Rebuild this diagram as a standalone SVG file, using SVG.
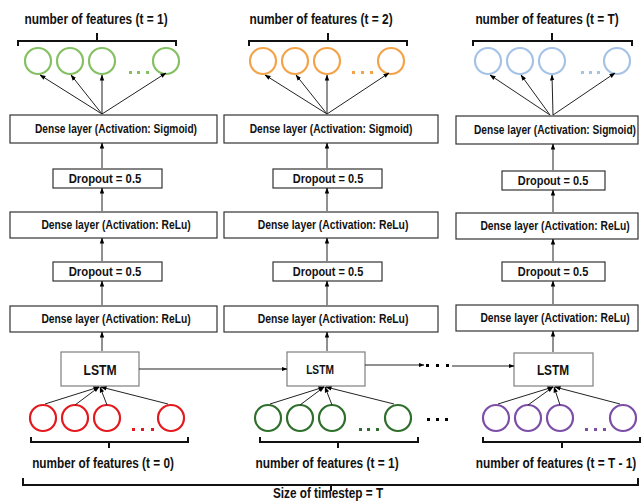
<svg xmlns="http://www.w3.org/2000/svg" width="643" height="502" viewBox="0 0 643 502">
<defs>
<marker id="ah" markerUnits="userSpaceOnUse" markerWidth="6" markerHeight="6" viewBox="0 0 6 6" refX="5.5" refY="3" orient="auto">
<path d="M0,0.8 L6,3 L0,5.2 Z" fill="#000"/>
</marker>
</defs>
<style>
.box{fill:#fff;stroke:#333;stroke-width:1.2}
.lstm{fill:#fff;stroke:#7f7f7f;stroke-width:1.2}
.t{font-family:"Liberation Sans",Arial,sans-serif;font-weight:bold;fill:#111;text-anchor:middle}
.bt{font-size:12.5px}
.lb{font-size:15.5px}
.ls{font-size:14px}
.c{fill:none;stroke-width:2.2}
.g1{stroke:#85c163}.o{stroke:#f5a34b}.b{stroke:#a6c3e6}
.r{stroke:#e3191e}.g2{stroke:#2e6f2b}.p{stroke:#7b4ea8}
.ar{stroke:#222;stroke-width:1;fill:none;marker-end:url(#ah)}
.br{stroke:#111;stroke-width:2;fill:none}
</style>

<g id="col1-output">
<text class="t lb" transform="translate(96,24) scale(0.75,1)" textLength="191" lengthAdjust="spacingAndGlyphs">number of features (t = 1)</text>
<path class="br" d="M18,46 V41 H176 V46 M97,41 V33"/>
<circle class="c g1" cx="38" cy="61" r="13"/><circle class="c g1" cx="70" cy="61" r="13"/><circle class="c g1" cx="102" cy="61" r="13"/><circle class="c g1" cx="166" cy="61" r="13"/>
<g fill="#85c163"><rect x="129" y="71" width="3" height="3"/><rect x="137" y="71" width="3" height="3"/><rect x="146" y="71" width="3" height="3"/></g>
</g>
<g id="col2-output">
<text class="t lb" transform="translate(321,24) scale(0.75,1)" textLength="191" lengthAdjust="spacingAndGlyphs">number of features (t = 2)</text>
<path class="br" d="M249,46 V41 H407 V46 M328,41 V33"/>
<circle class="c o" cx="263" cy="61" r="13"/><circle class="c o" cx="295" cy="61" r="13"/><circle class="c o" cx="327" cy="61" r="13"/><circle class="c o" cx="391" cy="61" r="13"/>
<g fill="#f5a34b"><rect x="352" y="71" width="3" height="3"/><rect x="361" y="71" width="3" height="3"/><rect x="370" y="71" width="3" height="3"/></g>
</g>
<g id="col3-output">
<text class="t lb" transform="translate(547,24) scale(0.75,1)" textLength="191" lengthAdjust="spacingAndGlyphs">number of features (t = T)</text>
<path class="br" d="M473,46 V41 H632 V46 M552,41 V33"/>
<circle class="c b" cx="488" cy="61" r="13"/><circle class="c b" cx="520" cy="61" r="13"/><circle class="c b" cx="552" cy="61" r="13"/><circle class="c b" cx="617" cy="61" r="13"/>
<g fill="#a6c3e6"><rect x="581" y="71" width="3" height="3"/><rect x="589" y="71" width="3" height="3"/><rect x="597" y="71" width="3" height="3"/></g>
</g>

<g id="col1-sigmoid"><rect class="box" x="10" y="115" width="207" height="28"/><text class="t bt" transform="translate(116,133) scale(0.75,1)" textLength="216" lengthAdjust="spacingAndGlyphs">Dense layer (Activation: Sigmoid)</text></g>
<g id="col1-dropout1"><rect class="box" x="53" y="169" width="109" height="19"/><text class="t bt" transform="translate(105,183) scale(0.75,1)" textLength="97" lengthAdjust="spacingAndGlyphs">Dropout = 0.5</text></g>
<g id="col1-relu1"><rect class="box" x="10" y="212" width="207" height="26"/><text class="t bt" transform="translate(116,229) scale(0.75,1)" textLength="199" lengthAdjust="spacingAndGlyphs">Dense layer (Activation: ReLu)</text></g>
<g id="col1-dropout2"><rect class="box" x="53" y="262" width="109" height="19"/><text class="t bt" transform="translate(105,276) scale(0.75,1)" textLength="97" lengthAdjust="spacingAndGlyphs">Dropout = 0.5</text></g>
<g id="col1-relu2"><rect class="box" x="10" y="306" width="207" height="26"/><text class="t bt" transform="translate(116,323) scale(0.75,1)" textLength="199" lengthAdjust="spacingAndGlyphs">Dense layer (Activation: ReLu)</text></g>
<g id="col1-lstm"><rect class="lstm" x="61" y="352" width="78" height="34"/><text class="t ls" transform="translate(100,375) scale(0.75,1)" textLength="44" lengthAdjust="spacingAndGlyphs">LSTM</text></g>

<g id="col2-sigmoid"><rect class="box" x="224" y="115" width="214" height="28"/><text class="t bt" transform="translate(331,133) scale(0.75,1)" textLength="217" lengthAdjust="spacingAndGlyphs">Dense layer (Activation: Sigmoid)</text></g>
<g id="col2-dropout1"><rect class="box" x="273" y="169" width="109" height="19"/><text class="t bt" transform="translate(328,183) scale(0.75,1)" textLength="94" lengthAdjust="spacingAndGlyphs">Dropout = 0.5</text></g>
<g id="col2-relu1"><rect class="box" x="224" y="212" width="214" height="26"/><text class="t bt" transform="translate(333,229) scale(0.75,1)" textLength="201" lengthAdjust="spacingAndGlyphs">Dense layer (Activation: ReLu)</text></g>
<g id="col2-dropout2"><rect class="box" x="273" y="262" width="109" height="19"/><text class="t bt" transform="translate(328,276) scale(0.75,1)" textLength="94" lengthAdjust="spacingAndGlyphs">Dropout = 0.5</text></g>
<g id="col2-relu2"><rect class="box" x="224" y="306" width="214" height="26"/><text class="t bt" transform="translate(333,323) scale(0.75,1)" textLength="201" lengthAdjust="spacingAndGlyphs">Dense layer (Activation: ReLu)</text></g>
<g id="col2-lstm"><rect class="lstm" x="287" y="352" width="78" height="34"/><text class="t" style="font-size:12px" transform="translate(320,374) scale(0.75,1)" textLength="37" lengthAdjust="spacingAndGlyphs">LSTM</text></g>

<g id="col3-sigmoid"><rect class="box" x="456" y="116" width="182" height="28"/><text class="t bt" transform="translate(555,134) scale(0.75,1)" textLength="216" lengthAdjust="spacingAndGlyphs">Dense layer (Activation: Sigmoid)</text></g>
<g id="col3-dropout1"><rect class="box" x="502" y="171" width="103" height="19"/><text class="t bt" transform="translate(553,185) scale(0.75,1)" textLength="94" lengthAdjust="spacingAndGlyphs">Dropout = 0.5</text></g>
<g id="col3-relu1"><rect class="box" x="456" y="213" width="182" height="26"/><text class="t bt" transform="translate(555,230) scale(0.75,1)" textLength="199" lengthAdjust="spacingAndGlyphs">Dense layer (Activation: ReLu)</text></g>
<g id="col3-dropout2"><rect class="box" x="502" y="262" width="103" height="19"/><text class="t bt" transform="translate(553,276) scale(0.75,1)" textLength="94" lengthAdjust="spacingAndGlyphs">Dropout = 0.5</text></g>
<g id="col3-relu2"><rect class="box" x="456" y="305" width="182" height="26"/><text class="t bt" transform="translate(555,322) scale(0.75,1)" textLength="199" lengthAdjust="spacingAndGlyphs">Dense layer (Activation: ReLu)</text></g>
<g id="col3-lstm"><rect class="lstm" x="514" y="353" width="79" height="33"/><text class="t ls" transform="translate(553,375) scale(0.75,1)" textLength="43" lengthAdjust="spacingAndGlyphs">LSTM</text></g>

<g id="col1-input">
<circle class="c r" cx="43" cy="418" r="13"/><circle class="c r" cx="75" cy="418" r="13"/><circle class="c r" cx="107" cy="418" r="13"/><circle class="c r" cx="171" cy="418" r="13"/>
<g fill="#e3191e"><rect x="132" y="428" width="3" height="3"/><rect x="141" y="428" width="3" height="3"/><rect x="151" y="428" width="3" height="3"/></g>
<path class="br" d="M31,437 V442 H188 V437 M109,442 V448"/>
<text class="t lb" transform="translate(103,468) scale(0.75,1)" textLength="189" lengthAdjust="spacingAndGlyphs">number of features (t = 0)</text>
</g>
<g id="col2-input">
<circle class="c g2" cx="268" cy="418" r="13"/><circle class="c g2" cx="300" cy="418" r="13"/><circle class="c g2" cx="332" cy="418" r="13"/><circle class="c g2" cx="398" cy="418" r="13"/>
<g fill="#2e6f2b"><rect x="359" y="428" width="3" height="3"/><rect x="367" y="428" width="3" height="3"/><rect x="376" y="428" width="3" height="3"/></g>
<path class="br" d="M260,437 V442 H418 V437 M338,442 V448"/>
<text class="t lb" transform="translate(327,468) scale(0.75,1)" textLength="191" lengthAdjust="spacingAndGlyphs">number of features (t = 1)</text>
</g>
<g id="col3-input">
<circle class="c p" cx="496" cy="418" r="13"/><circle class="c p" cx="528" cy="418" r="13"/><circle class="c p" cx="560" cy="418" r="13"/><circle class="c p" cx="623" cy="418" r="13"/>
<g fill="#7b4ea8"><rect x="585" y="428" width="3" height="3"/><rect x="594" y="428" width="3" height="3"/><rect x="603" y="428" width="3" height="3"/></g>
<path class="br" d="M483,437 V442 H640 V437 M562,442 V448"/>
<text class="t lb" transform="translate(556,468) scale(0.75,1)" textLength="214" lengthAdjust="spacingAndGlyphs">number of features (t = T - 1)</text>
</g>

<g id="timestep">
<path class="br" d="M23,478 V485 H638 V478 M331,485 V491"/>
<text class="t" style="font-size:14.5px" transform="translate(328,498) scale(0.75,1)" textLength="147" lengthAdjust="spacingAndGlyphs">Size of timestep = T</text>
</g>

<g id="ellipsis" fill="#000">
<rect x="426" y="364" width="3" height="3"/><rect x="436" y="364" width="3" height="3"/><rect x="446" y="364" width="3" height="3"/>
<rect x="427" y="418" width="3" height="3"/><rect x="436" y="418" width="3" height="3"/><rect x="445" y="418" width="3" height="3"/>
</g>

<g id="connectors">
<line class="ar" x1="102" y1="114" x2="40" y2="75"/>
<line class="ar" x1="102" y1="114" x2="71" y2="75"/>
<line class="ar" x1="102" y1="114" x2="102" y2="75"/>
<line class="ar" x1="102" y1="114" x2="166" y2="73"/>
<line class="ar" x1="327" y1="114" x2="265" y2="75"/>
<line class="ar" x1="327" y1="114" x2="296" y2="75"/>
<line class="ar" x1="327" y1="114" x2="327" y2="75"/>
<line class="ar" x1="327" y1="114" x2="389" y2="73"/>
<line class="ar" x1="550" y1="115" x2="490" y2="75"/>
<line class="ar" x1="550" y1="115" x2="521" y2="75"/>
<line class="ar" x1="553" y1="115" x2="552" y2="75"/>
<line class="ar" x1="553" y1="115" x2="615" y2="73"/>

<line class="ar" x1="102" y1="168" x2="102" y2="143"/>
<line class="ar" x1="102" y1="211" x2="102" y2="188"/>
<line class="ar" x1="102" y1="261" x2="102" y2="238"/>
<line class="ar" x1="102" y1="305" x2="102" y2="281"/>
<line class="ar" x1="102" y1="351" x2="102" y2="332"/>
<line class="ar" x1="327" y1="168" x2="327" y2="143"/>
<line class="ar" x1="327" y1="211" x2="327" y2="188"/>
<line class="ar" x1="327" y1="261" x2="327" y2="238"/>
<line class="ar" x1="327" y1="305" x2="327" y2="281"/>
<line class="ar" x1="327" y1="351" x2="327" y2="332"/>
<line class="ar" x1="553" y1="170" x2="553" y2="144"/>
<line class="ar" x1="553" y1="212" x2="553" y2="190"/>
<line class="ar" x1="553" y1="261" x2="553" y2="239"/>
<line class="ar" x1="553" y1="304" x2="553" y2="281"/>
<line class="ar" x1="553" y1="352" x2="553" y2="331"/>

<line class="ar" x1="45" y1="404" x2="99" y2="387"/>
<line class="ar" x1="75" y1="405" x2="99" y2="387"/>
<line class="ar" x1="107" y1="405" x2="100" y2="387"/>
<line class="ar" x1="168" y1="404" x2="101" y2="387"/>
<line class="ar" x1="270" y1="404" x2="324" y2="387"/>
<line class="ar" x1="300" y1="405" x2="324" y2="387"/>
<line class="ar" x1="332" y1="405" x2="325" y2="387"/>
<line class="ar" x1="394" y1="404" x2="326" y2="387"/>
<line class="ar" x1="498" y1="404" x2="553" y2="387"/>
<line class="ar" x1="528" y1="405" x2="553" y2="387"/>
<line class="ar" x1="560" y1="405" x2="554" y2="387"/>
<line class="ar" x1="620" y1="404" x2="555" y2="387"/>

<line class="ar" x1="139" y1="369" x2="287" y2="369"/>
<line class="ar" x1="365" y1="365" x2="424" y2="365"/>
<line class="ar" x1="452" y1="366" x2="514" y2="366"/>
</g>
</svg>
